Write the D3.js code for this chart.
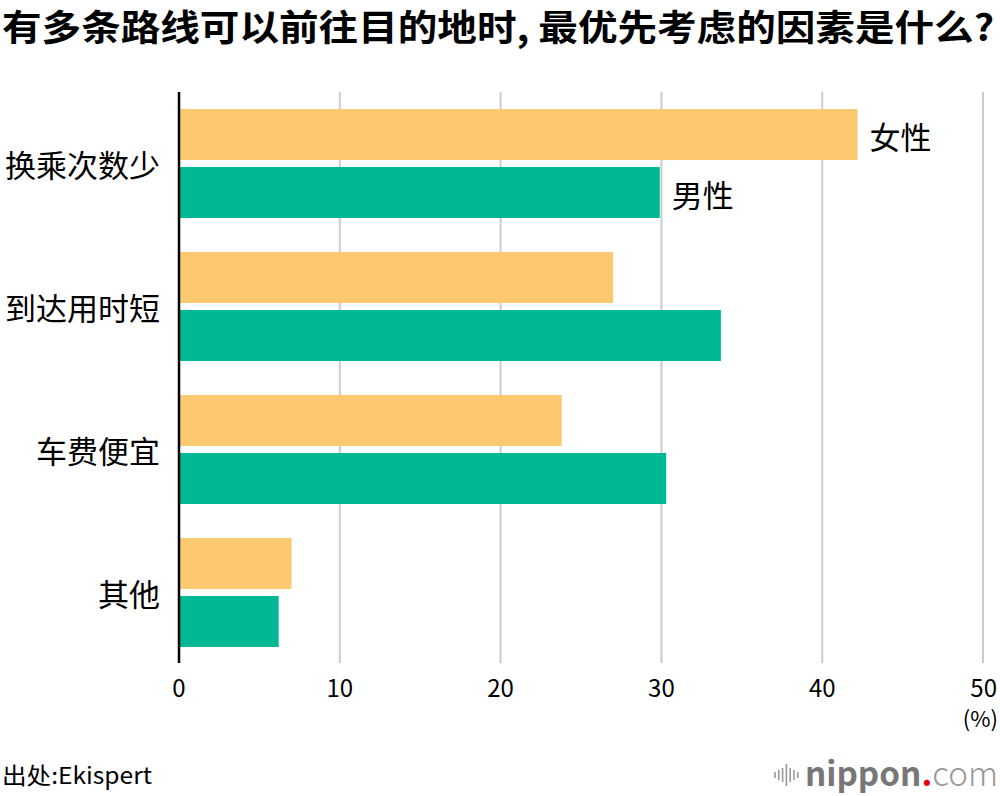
<html lang="zh">
<head>
<meta charset="utf-8">
<style>
body { margin: 0; background: #fff; }
text { font-family: "Noto Sans CJK SC", "Noto Sans", sans-serif; }
</style>
</head>
<body>
<script src="https://d3js.org/d3.v7.min.js"></script>
<script>
// data
const categories = ["换乘次数少", "到达用时短", "车费便宜", "其他"];
const series = ["女性", "男性"];
const female = [42.2, 27.0, 23.8, 7.0];
const male = [29.9, 33.7, 30.3, 6.2];
const xTicks = [0, 10, 20, 30, 40, 50];
const colors = {"女性": "#fcc970", "男性": "#00b894"};

const W = 1000, H = 796;
const svg = d3.select("body").append("svg")
  .attr("width", W).attr("height", H);

// title
svg.append("text")
  .attr("x", 2).attr("y", 41)
  .attr("font-size", 36).attr("font-weight", 700)
  .attr("textLength", 992).attr("lengthAdjust", "spacingAndGlyphs")
  .text("有多条路线可以前往目的地时, 最优先考虑的因素是什么?");

const plotTop = 92, plotBottom = 664;
const x = d3.scaleLinear().domain([0, 50]).range([179, 983]);
const y0 = d3.scaleBand().domain(categories).range([plotTop, plotBottom])
  .paddingInner(0.238).paddingOuter(0.119);
const y1 = d3.scaleBand().domain(series).range([0, y0.bandwidth()])
  .paddingInner(0.1207).paddingOuter(0);

// gridlines
svg.append("g").selectAll("line")
  .data(xTicks.filter(d => d > 0))
  .join("line")
  .attr("x1", d => x(d)).attr("x2", d => x(d))
  .attr("y1", plotTop).attr("y2", plotBottom - 1)
  .attr("stroke", "#cccccc").attr("stroke-width", 2);

// bars
const rows = categories.map((c, i) => ({cat: c, vals: [
  {s: "女性", v: female[i]}, {s: "男性", v: male[i]}]}));
const g = svg.append("g").selectAll("g").data(rows).join("g")
  .attr("transform", d => "translate(0," + y0(d.cat) + ")");
g.selectAll("rect").data(d => d.vals).join("rect")
  .attr("x", x(0))
  .attr("y", d => y1(d.s))
  .attr("width", d => x(d.v) - x(0))
  .attr("height", y1.bandwidth())
  .attr("fill", d => colors[d.s]);

// zero axis line
svg.append("line")
  .attr("x1", x(0)).attr("x2", x(0))
  .attr("y1", plotTop).attr("y2", plotBottom - 1)
  .attr("stroke", "#000").attr("stroke-width", 2.5);

// category labels
svg.append("g").selectAll("text").data(categories).join("text")
  .attr("x", 160)
  .attr("y", d => y0(d) + y0.bandwidth() / 2)
  .attr("text-anchor", "end").attr("dominant-baseline", "central")
  .attr("font-size", 31)
  .text(d => d);

// series labels next to first group
const firstVals = [female[0], male[0]];
svg.append("g").selectAll("text").data(series).join("text")
  .attr("x", (d, i) => x(firstVals[i]) + 12)
  .attr("y", d => y0(categories[0]) + y1(d) + y1.bandwidth() / 2 + 1)
  .attr("dominant-baseline", "central")
  .attr("font-size", 31)
  .text(d => d);

// x tick labels
svg.append("g").selectAll("text").data(xTicks).join("text")
  .attr("x", d => x(d))
  .attr("y", 697)
  .attr("text-anchor", d => d === 50 ? "end" : "middle")
  .attr("dx", d => d === 50 ? 14 : 0)
  .attr("font-size", 24)
  .attr("font-family", "'Liberation Sans Narrow', Roboto, sans-serif")
  .text(d => d);
svg.append("text")
  .attr("x", 998).attr("y", 727)
  .attr("text-anchor", "end")
  .attr("font-size", 22)
  .attr("font-family", "'Liberation Sans Narrow', Roboto, sans-serif")
  .text("(%)");

// source
svg.append("text")
  .attr("x", 2).attr("y", 784)
  .attr("font-size", 23)
  .attr("textLength", 150).attr("lengthAdjust", "spacingAndGlyphs")
  .text("出处:Ekispert");

// logo
const bars = [6, 10, 14, 22, 14, 10, 6];
svg.append("g").selectAll("line").data(bars).join("line")
  .attr("x1", (d, i) => 775 + i * 3.8).attr("x2", (d, i) => 775 + i * 3.8)
  .attr("y1", d => 775 - d / 2).attr("y2", d => 775 + d / 2)
  .attr("stroke", "#999").attr("stroke-width", 1.6);
const logo = svg.append("text")
  .attr("x", 805).attr("y", 786)
  .attr("font-size", 33)
  .attr("textLength", 193).attr("lengthAdjust", "spacingAndGlyphs")
  .attr("font-family", "Roboto, sans-serif");
logo.append("tspan").attr("fill", "#777").attr("font-weight", 700).text("nippon");
logo.append("tspan").attr("fill", "#e60012").attr("font-weight", 700).text(".");
logo.append("tspan").attr("fill", "#999").attr("font-weight", 300).text("com");
</script>
</body>
</html>
